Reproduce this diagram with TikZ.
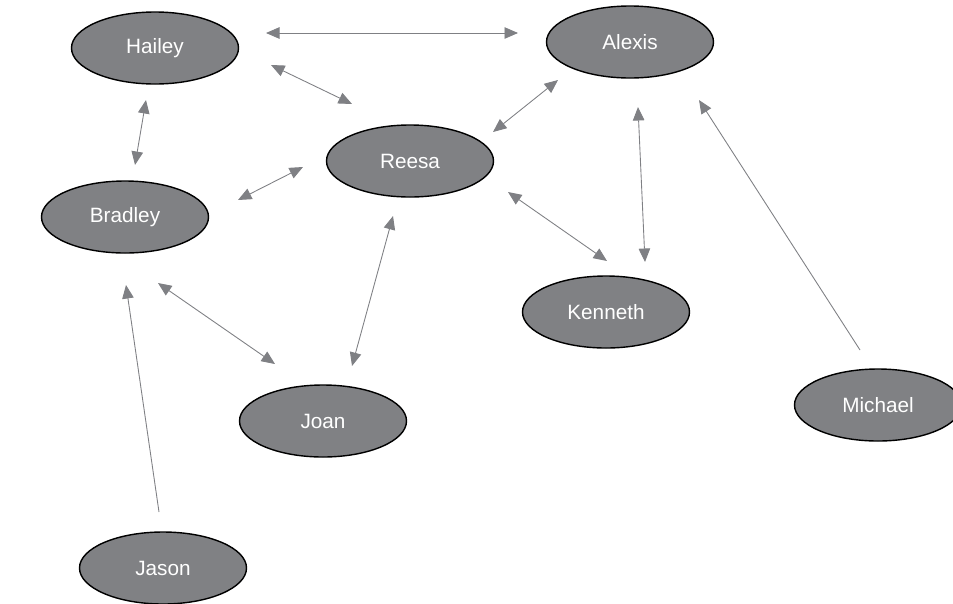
\documentclass[tikz,border=0pt]{standalone}
\usepackage{fontspec}
\setmainfont{Liberation Sans}
\definecolor{nodegray}{HTML}{808184}
\definecolor{linkgray}{HTML}{7F8084}
\usetikzlibrary{shapes.geometric,arrows.meta}

\tikzset{
  person/.style={ellipse,draw=black,line width=0.8pt,fill=nodegray,
                 minimum width=3.34cm,minimum height=1.44cm,inner sep=0pt,
                 text=white,font=\fontsize{11.8}{13}\selectfont},
  mutual/.style={draw=linkgray,line width=0.5pt,
                 {Triangle[length=0.27cm,width=0.23cm]}-{Triangle[length=0.27cm,width=0.23cm]}},
  oneway/.style={draw=linkgray,line width=0.5pt,-{Triangle[length=0.27cm,width=0.23cm]}}
}

\begin{document}
\begin{tikzpicture}
  \useasboundingbox (0,0) rectangle (19.06,-12.06);
  \clip (0,0) rectangle (19.06,-12.06);

  %% People
  \node[person] (hailey)  at (3.10,-0.96)  {Hailey};
  \node[person] (alexis)  at (12.60,-0.84) {Alexis};
  \node[person] (reesa)   at (8.20,-3.22)  {Reesa};
  \node[person] (bradley) at (2.50,-4.34)  {Bradley};
  \node[person] (kenneth) at (12.12,-6.24) {Kenneth};
  \node[person] (joan)    at (6.46,-8.42)  {Joan};
  \node[person] (michael) at (17.56,-8.10) {Michael};
  \node[person] (jason)   at (3.26,-11.36) {Jason};

  %% Free ends of the ties
  \coordinate (ha) at (5.32,-0.66);   \coordinate (ah) at (10.36,-0.66);
  \coordinate (hr) at (5.42,-1.30);   \coordinate (rh) at (7.04,-2.08);
  \coordinate (hb) at (2.92,-2.00);   \coordinate (bh) at (2.70,-3.30);
  \coordinate (br) at (4.76,-4.00);   \coordinate (rb) at (6.06,-3.34);
  \coordinate (ra) at (9.86,-2.64);   \coordinate (ar) at (11.16,-1.60);
  \coordinate (ak) at (12.76,-2.14);  \coordinate (ka) at (12.90,-5.24);
  \coordinate (rk) at (10.16,-3.84);  \coordinate (kr) at (12.14,-5.22);
  \coordinate (bj) at (3.16,-5.66);   \coordinate (jb) at (5.50,-7.28);
  \coordinate (rj) at (7.86,-4.32);   \coordinate (jr) at (7.04,-7.32);
  \coordinate (ma) at (17.20,-7.00);  \coordinate (am) at (13.98,-2.00);
  \coordinate (jab) at (3.18,-10.24); \coordinate (bja) at (2.52,-5.70);

  %% Mutual choices
  \draw[mutual] (ha) -- (ah);
  \draw[mutual] (hr) -- (rh);
  \draw[mutual] (hb) -- (bh);
  \draw[mutual] (br) -- (rb);
  \draw[mutual] (ra) -- (ar);
  \draw[mutual] (ak) -- (ka);
  \draw[mutual] (rk) -- (kr);
  \draw[mutual] (bj) -- (jb);
  \draw[mutual] (rj) -- (jr);

  %% One-way choices
  \draw[oneway] (ma) -- (am);
  \draw[oneway] (jab) -- (bja);
\end{tikzpicture}
\end{document}
